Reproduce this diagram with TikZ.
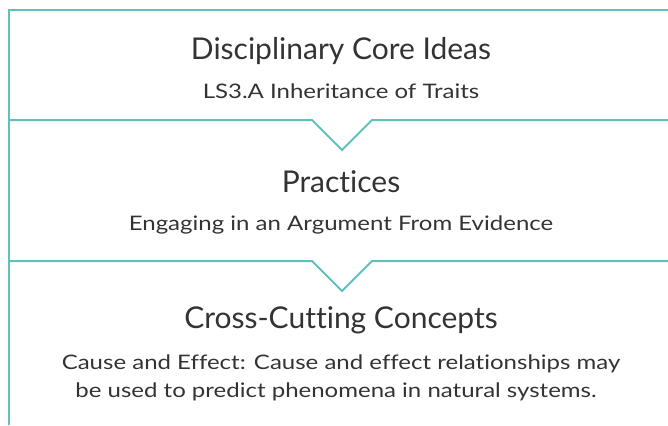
\documentclass[tikz,border=0pt]{standalone}
\usepackage{fontspec}
\setmainfont{Lato}[Ligatures=NoCommon]
\newfontfamily\widefont{Lato}[Ligatures=NoCommon,FakeStretch=1.2]
\definecolor{frameteal}{HTML}{5FC1BC}
\definecolor{inkgray}{HTML}{333333}

\begin{document}
\begin{tikzpicture}[x=1pt,y=-1pt,
    frame/.style={draw=frameteal,line width=2pt,line join=miter},
    heading/.style={anchor=base,text=inkgray,font=\fontsize{30}{34}\selectfont,inner sep=0pt},
    detail/.style={anchor=base,text=inkgray,font=\widefont\fontsize{20}{28}\selectfont,inner sep=0pt}]

      \useasboundingbox (0,0) rectangle (668,425);

      % corners of the frame
      \coordinate (topleft)  at (9,10);
      \coordinate (topright) at (668,10);
      \coordinate (botleft)  at (9,425);

      % the two notched dividers
      \coordinate (d1l) at (9,120);
      \coordinate (d1a) at (312,120);
      \coordinate (d1v) at (342,150);
      \coordinate (d1b) at (372,120);
      \coordinate (d1r) at (668,120);

      \coordinate (d2l) at (9,261);
      \coordinate (d2a) at (312,261);
      \coordinate (d2v) at (342,291);
      \coordinate (d2b) at (372,261);
      \coordinate (d2r) at (668,261);

      \draw[frame] (botleft) -- (topleft) -- (topright);
      \draw[frame] (d1l) -- (d1a) -- (d1v) -- (d1b) -- (d1r);
      \draw[frame] (d2l) -- (d2a) -- (d2v) -- (d2b) -- (d2r);

      \node[heading] (core)      at (341,60)  {Disciplinary Core Ideas};
      \node[detail]  (inherit)   at (341,99)  {LS3.A Inheritance of Traits};
      \node[heading] (practices) at (341,192) {Practices};
      \node[detail]  (argument)  at (341,230) {Engaging in an Argument From Evidence};
      \node[heading] (crosscut)  at (341,328) {Cross-Cutting Concepts};
      \node[detail]  (cause)     at (341,369) {Cause and Effect: Cause and effect relationships may};
      \node[detail]  (predict)   at (336,397) {be used to predict phenomena in natural systems.};

    \end{tikzpicture}
\end{document}
